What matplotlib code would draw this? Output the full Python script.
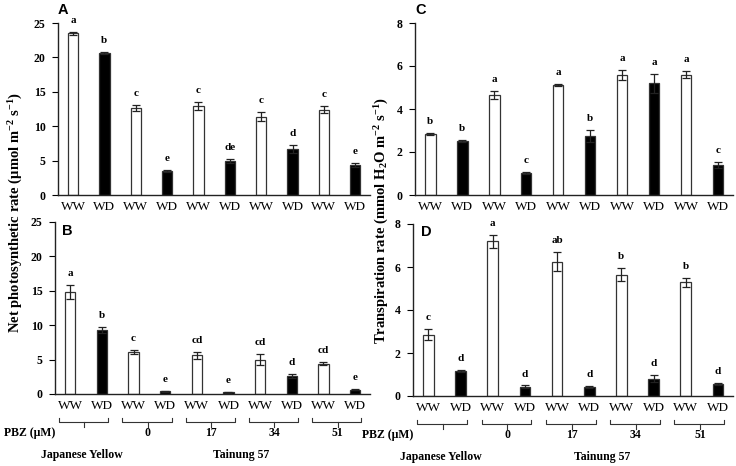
import matplotlib
matplotlib.use("Agg")
import matplotlib.pyplot as plt
import matplotlib.transforms as mtransforms
import numpy as np

# ---------------- data ----------------
treatments = ["WW", "WD", "WW", "WD", "WW", "WD", "WW", "WD", "WW", "WD"]
pbz_labels = ["0", "17", "34", "51"]
cultivars = ["Japanese Yellow", "Tainung 57"]

photo_nd_mean = [23.5, 20.6, 12.6, 3.5, 12.9, 4.9, 11.4, 6.7, 12.4, 4.4]
photo_nd_err = [0.2, 0.15, 0.45, 0.1, 0.6, 0.3, 0.6, 0.55, 0.5, 0.3]
photo_nd_sig = ["a", "b", "c", "e", "c", "de", "c", "d", "c", "e"]

photo_d_mean = [14.8, 9.3, 6.1, 0.4, 5.6, 0.25, 5.0, 2.6, 4.4, 0.6]
photo_d_err = [1.0, 0.4, 0.3, 0.05, 0.5, 0.05, 0.8, 0.3, 0.2, 0.08]
photo_d_sig = ["a", "b", "c", "e", "cd", "e", "cd", "d", "cd", "e"]

trans_nd_mean = [2.85, 2.5, 4.65, 1.02, 5.1, 2.75, 5.58, 5.2, 5.6, 1.4]
trans_nd_err = [0.05, 0.04, 0.2, 0.05, 0.05, 0.28, 0.22, 0.45, 0.17, 0.15]
trans_nd_sig = ["b", "b", "a", "c", "a", "b", "a", "a", "a", "c"]

trans_d_mean = [2.85, 1.18, 7.2, 0.42, 6.25, 0.42, 5.65, 0.8, 5.28, 0.56]
trans_d_err = [0.25, 0.05, 0.3, 0.07, 0.45, 0.03, 0.3, 0.17, 0.2, 0.03]
trans_d_sig = ["c", "d", "a", "d", "ab", "d", "b", "d", "b", "d"]

# ---------------- style ----------------
serif = ["Liberation Serif", "DejaVu Serif"]
sans = ["Liberation Sans", "DejaVu Sans"]
plt.rcParams["font.family"] = serif
plt.rcParams["mathtext.fontset"] = "custom"
plt.rcParams["mathtext.rm"] = "Liberation Serif:bold"
plt.rcParams["mathtext.it"] = "Liberation Serif:bold"
plt.rcParams["mathtext.bf"] = "Liberation Serif:bold"

W, H = 736, 466
fig = plt.figure(figsize=(W / 100, H / 100), dpi=100)


def ax_rect(left, right, top, bottom):
    return [left / W, 1 - bottom / H, (right - left) / W, (bottom - top) / H]


axA = fig.add_axes(ax_rect(58, 370, 23, 195))
axB = fig.add_axes(ax_rect(55, 370, 222, 394))
axC = fig.add_axes(ax_rect(415, 733, 23, 195))
axD = fig.add_axes(ax_rect(413, 733, 224, 396))

# letter positions (pixel x of left edge, pixel y of baseline)
panels = [
    (axA, photo_nd_mean, photo_nd_err, photo_nd_sig, 25, 5, "A", False, (58, 14)),
    (axB, photo_d_mean, photo_d_err, photo_d_sig, 25, 5, "B", True, (62, 235)),
    (axC, trans_nd_mean, trans_nd_err, trans_nd_sig, 8, 2, "C", False, (415, 14)),
    (axD, trans_d_mean, trans_d_err, trans_d_sig, 8, 2, "D", True, (421, 236)),
]

x = np.arange(len(treatments))
colors = ["white" if t == "WW" else "black" for t in treatments]
edge = "#333333"

for ax, mean, err, sig, ymax, step, letter, bottom_row, lpos in panels:
    ax.bar(x, mean, width=0.33, color=colors, edgecolor=edge, linewidth=0.9, zorder=2)
    ax.errorbar(x, mean, yerr=err, fmt="none", ecolor="#222222", elinewidth=0.9,
                capsize=3, capthick=0.9, zorder=3)
    for xi, m, e, s in zip(x, mean, err, sig):
        ax.annotate(s, (xi, m + e), xytext=(0, 5), textcoords="offset points",
                    ha="center", va="bottom", fontsize=8, fontweight="bold",
                    family=serif, annotation_clip=False)
    ax.set_ylim(0, ymax)
    ax.set_yticks(np.arange(0, ymax + 0.01, step))
    ax.set_yticklabels([f"{v:g}" for v in np.arange(0, ymax + 0.01, step)],
                       fontsize=8.5, fontweight="bold", family=serif)
    ax.set_xlim(-0.48, 9.47)
    ax.set_xticks(x)
    ax.set_xticklabels(treatments, fontsize=9.5, family=serif)
    ax.tick_params(axis="x", length=0, pad=4)
    ax.tick_params(axis="y", direction="out", length=4, width=0.8, pad=5)
    for sp in ["top", "right"]:
        ax.spines[sp].set_visible(False)
    for sp in ["left", "bottom"]:
        ax.spines[sp].set_linewidth(1.0)
        ax.spines[sp].set_color("#222222")
    fig.text(lpos[0] / W, 1 - lpos[1] / H, letter, fontsize=10.5,
             fontweight="bold", family=sans, ha="left", va="baseline")

    if bottom_row:
        trans = mtransforms.blended_transform_factory(ax.transData, ax.transAxes)
        for k in range(5):
            l = 2 * k - 0.35
            r = 2 * k + 1 + 0.2
            mid = 2 * k + 0.45
            ax.plot([l, l, r, r], [-0.14, -0.162, -0.162, -0.14], color="#333333",
                    lw=0.8, transform=trans, clip_on=False)
            ax.plot([mid, mid], [-0.162, -0.19], color="#333333", lw=0.8,
                    transform=trans, clip_on=False)
            if k >= 1:
                ax.text(mid, -0.225, pbz_labels[k - 1], transform=trans, ha="center",
                        va="center", fontsize=8.5, fontweight="bold", family=serif)
        ax.text(0.0, -0.225, "PBZ (μM)", transform=ax.transAxes, ha="right",
                va="center", fontsize=8.5, fontweight="bold", family=serif)
        ax.text(0.38, -0.355, cultivars[0], transform=trans, ha="center",
                va="center", fontsize=8.5, fontweight="bold", family=serif)
        ax.text(5.4, -0.355, cultivars[1], transform=trans, ha="center",
                va="center", fontsize=8.5, fontweight="bold", family=serif)

fig.text(16 / W, 1 - 213 / H,
         "Net photosynthetic rate (μmol m$^{-2}$ s$^{-1}$)",
         rotation=90, ha="center", va="center", fontsize=10.5,
         fontweight="bold", family=serif)
fig.text(382 / W, 1 - 220 / H,
         "Transpiration rate (mmol H$_2$O m$^{-2}$ s$^{-1}$)",
         rotation=90, ha="center", va="center", fontsize=10.5,
         fontweight="bold", family=serif)

fig.savefig("out.png", dpi=100)
